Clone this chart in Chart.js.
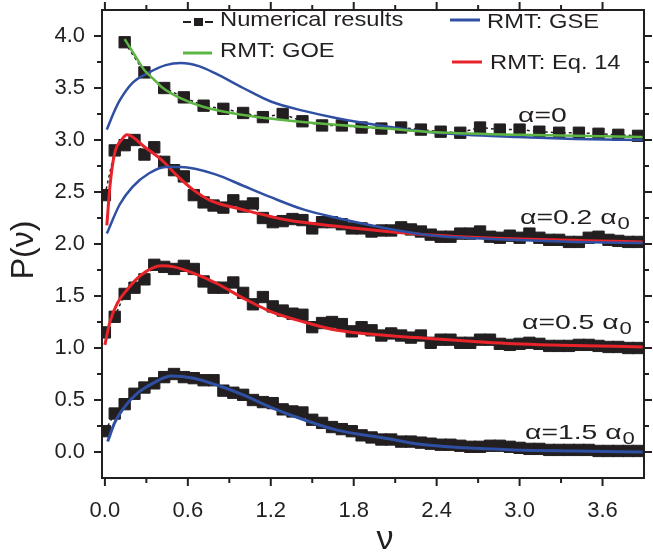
<!DOCTYPE html>
<html><head><meta charset="utf-8">
<script src="https://cdn.jsdelivr.net/npm/chart.js@4.4.0/dist/chart.umd.min.js"></script>
<style>html,body{margin:0;padding:0;background:#fff;}#wrap{width:653px;height:558px;position:relative;}</style>
</head><body><div id="wrap"><canvas id="c" width="653" height="558"></canvas></div>
<script>
// ---- data ----
const nuCoarse = [0.143,0.286,0.429,0.571,0.714,0.857,1.0,1.143,1.286,1.429,1.571,1.714,1.857,2.0,2.143,2.286,2.429,2.571,2.714,2.857,3.0,3.143,3.286,3.429,3.571,3.714,3.857];
const pAlpha0 = [3.94,3.65,3.50,3.41,3.33,3.30,3.26,3.22,3.25,3.18,3.14,3.14,3.12,3.11,3.12,3.10,3.08,3.07,3.12,3.10,3.10,3.08,3.07,3.07,3.06,3.05,3.04];

const nuFine = [0,0.071,0.143,0.214,0.286,0.357,0.429,0.5,0.571,0.643,0.714,0.786,0.857,0.929,1.0,1.071,1.143,1.214,1.286,1.357,1.429,1.5,1.571,1.643,1.714,1.786,1.857,1.929,2.0,2.071,2.143,2.214,2.286,2.357,2.429,2.5,2.571,2.643,2.714,2.786,2.857,2.929,3.0,3.071,3.143,3.214,3.286,3.357,3.429,3.5,3.571,3.643,3.714,3.786,3.857];
const pAlpha02 = [2.47,2.90,2.95,3.00,2.86,2.93,2.79,2.71,2.65,2.47,2.40,2.37,2.35,2.42,2.36,2.39,2.25,2.21,2.22,2.24,2.23,2.15,2.21,2.21,2.19,2.15,2.15,2.12,2.13,2.13,2.16,2.14,2.12,2.09,2.07,2.07,2.10,2.10,2.12,2.07,2.06,2.08,2.06,2.10,2.06,2.04,2.04,2.02,2.02,2.06,2.07,2.04,2.03,2.02,2.02];
const pAlpha05 = [1.15,1.30,1.52,1.58,1.66,1.80,1.78,1.76,1.79,1.76,1.64,1.58,1.58,1.63,1.53,1.42,1.49,1.40,1.36,1.33,1.32,1.20,1.24,1.25,1.23,1.16,1.20,1.17,1.12,1.14,1.12,1.10,1.12,1.05,1.08,1.08,1.05,1.05,1.08,1.08,1.04,1.03,1.04,1.05,1.04,1.02,1.02,1.02,1.03,1.03,1.02,1.01,1.01,1.00,1.00];
const pAlpha15 = [0.20,0.37,0.46,0.56,0.62,0.66,0.72,0.75,0.72,0.71,0.69,0.69,0.59,0.57,0.55,0.50,0.48,0.47,0.41,0.39,0.38,0.31,0.28,0.24,0.22,0.20,0.16,0.14,0.12,0.12,0.10,0.10,0.09,0.08,0.07,0.07,0.06,0.05,0.05,0.06,0.06,0.05,0.04,0.03,0.03,0.02,0.02,0.02,0.02,0.02,0.01,0.01,0.01,0.01,0.01];

const goeNu = [0.143,0.214,0.286,0.357,0.41,0.55,0.71,1.0,1.54,2.04,2.32,3.0,3.89];
const goeP  = [3.97,3.82,3.67,3.58,3.51,3.40,3.32,3.24,3.16,3.11,3.08,3.05,3.03];

const gseNuA = [0.014,0.06,0.107,0.2,0.32,0.44,0.55,0.68,0.8,1.0,1.2,1.44,1.68,2.04,2.32,2.61,2.96,3.4,3.89];
const gsePA  = [3.10,3.25,3.38,3.55,3.65,3.72,3.74,3.71,3.64,3.50,3.37,3.28,3.21,3.13,3.08,3.05,3.03,3.01,3.00];
const gseNuB = [0.014,0.107,0.2,0.32,0.44,0.55,0.8,1.0,1.2,1.44,1.68,2.04,2.32,2.61,2.96,3.4,3.89];
const gsePB  = [2.10,2.38,2.55,2.68,2.74,2.74,2.67,2.56,2.45,2.33,2.25,2.15,2.09,2.06,2.04,2.02,2.01];
const gseNuC = [0.02,0.07,0.14,0.24,0.36,0.48,0.64,0.84,1.0,1.2,1.44,1.68,2.04,2.25,2.6,2.96,3.4,3.89];
const gsePC  = [0.10,0.28,0.43,0.57,0.67,0.73,0.71,0.63,0.55,0.43,0.31,0.21,0.13,0.08,0.04,0.02,0.01,0.00];

const eqNuA = [0.014,0.036,0.07,0.12,0.16,0.29,0.41,0.52,0.64,0.76,1.0,1.32,1.68,2.04,2.32,2.96,3.89];
const eqPA  = [2.18,2.55,2.87,3.00,3.05,2.93,2.81,2.66,2.52,2.42,2.33,2.23,2.17,2.12,2.09,2.05,2.02];
const eqNuB = [0.0,0.036,0.09,0.16,0.26,0.41,0.5,0.64,0.81,1.0,1.2,1.44,1.68,2.04,2.25,2.96,3.89];
const eqPB  = [1.03,1.25,1.43,1.56,1.70,1.79,1.78,1.72,1.62,1.48,1.35,1.25,1.17,1.12,1.10,1.04,1.01];

const xTickValues = [0,0.3,0.6,0.9,1.2,1.5,1.8,2.1,2.4,2.7,3.0,3.3,3.6];
const xTickLabels = ['0.0','0.6','1.2','1.8','2.4','3.0','3.6'];
const yTickValues = [0,0.25,0.5,0.75,1.0,1.25,1.5,1.75,2.0,2.25,2.5,2.75,3.0,3.25,3.5,3.75,4.0];
const yTickLabels = ['0.0','0.5','1.0','1.5','2.0','2.5','3.0','3.5','4.0'];

const legendItems = ['Numerical results','RMT: GOE','RMT: GSE','RMT: Eq. 14'];
const annotations = [['α=0',''],['α=0.2 α','0'],['α=0.5 α','0'],['α=1.5 α','0']];

// ---- styling ----
const INK = '#231f20', GREEN = '#5db643', BLUE = '#2f4fa2', RED = '#e8232a';
const FONT = '"Liberation Sans", Arial, sans-serif';
const zip = (a, b) => a.map((v, i) => ({x: v, y: b[i]}));
const fmt = v => v.toFixed(1);
const isMult = (v, s) => Math.abs(v / s - Math.round(v / s)) < 1e-6;

function numDs(xs, ys) {
  return {data: zip(xs, ys), showLine: true, borderColor: INK, borderWidth: 1.5, borderDash: [3, 3],
    pointStyle: 'rect', pointRadius: 8, pointBackgroundColor: INK, pointBorderColor: INK, pointBorderWidth: 1,
    order: 5, clip: 0};
}
function curveDs(xs, ys, color, w) {
  return {data: zip(xs, ys), showLine: true, borderColor: color, borderWidth: w, pointRadius: 0,
    cubicInterpolationMode: 'monotone', order: 1, clip: 0};
}

function drawStretched(ctx, text, x, y, px, sx) {
  ctx.save();
  ctx.font = px + 'px ' + FONT;
  ctx.textBaseline = 'middle';
  ctx.textAlign = 'left';
  const w = ctx.measureText(text).width * sx;
  ctx.translate(x, y);
  ctx.scale(sx, 1);
  ctx.fillText(text, 0, 0);
  ctx.restore();
  return w;
}
function zeroPad(s) { s.paddingTop = 0; s.paddingBottom = 0; s.paddingLeft = 0; s.paddingRight = 0; }

const overlay = {
  id: 'overlay',
  afterDraw(chart) {
    const {ctx, chartArea: a, scales: {x, y}} = chart;
    ctx.save();
    ctx.strokeStyle = INK; ctx.fillStyle = INK;
    ctx.lineWidth = 2;
    ctx.strokeRect(a.left, a.top, a.right - a.left, a.bottom - a.top);
    ctx.beginPath();
    xTickValues.forEach(v => {
      const p = x.getPixelForValue(v);
      const L = isMult(v, 0.6) ? 8 : 5;
      ctx.moveTo(p, a.bottom); ctx.lineTo(p, a.bottom + L);
      ctx.moveTo(p, a.top); ctx.lineTo(p, a.top - L);
    });
    yTickValues.forEach(v => {
      const p = y.getPixelForValue(v);
      const L = isMult(v, 0.5) ? 8 : 5;
      ctx.moveTo(a.left, p); ctx.lineTo(a.left - L, p);
      ctx.moveTo(a.right, p); ctx.lineTo(a.right + L, p);
    });
    ctx.stroke();

    // axis titles
    ctx.save();
    ctx.translate(24, 250);
    ctx.rotate(-Math.PI / 2);
    ctx.font = '32px ' + FONT;
    ctx.textAlign = 'center'; ctx.textBaseline = 'middle';
    ctx.fillText('P(ν)', 0, 0);
    ctx.restore();
    ctx.font = '34px ' + FONT;
    ctx.textAlign = 'center'; ctx.textBaseline = 'middle';
    ctx.fillText('ν', 385, 540);

    // legend
    ctx.lineWidth = 2;
    ctx.beginPath();
    ctx.moveTo(183, 22); ctx.lineTo(191, 22);
    ctx.moveTo(205, 22); ctx.lineTo(213, 22);
    ctx.stroke();
    ctx.fillRect(194, 18, 9, 8);
    drawStretched(ctx, legendItems[0], 220, 20, 21, 1.13);
    ctx.lineWidth = 3;
    ctx.strokeStyle = GREEN;
    ctx.beginPath(); ctx.moveTo(183, 53); ctx.lineTo(212, 53); ctx.stroke();
    drawStretched(ctx, legendItems[1], 220, 51, 21, 1.13);
    ctx.strokeStyle = BLUE;
    ctx.beginPath(); ctx.moveTo(450, 20); ctx.lineTo(480, 20); ctx.stroke();
    drawStretched(ctx, legendItems[2], 487, 22, 21, 1.13);
    ctx.strokeStyle = RED;
    ctx.beginPath(); ctx.moveTo(452, 62); ctx.lineTo(482, 62); ctx.stroke();
    drawStretched(ctx, legendItems[3], 490, 63, 21, 1.13);

    // annotations
    const annPos = [[518, 116], [520, 218], [522, 323], [525, 433]];
    annotations.forEach((t, i) => {
      const [ax, ay] = annPos[i];
      const w = drawStretched(ctx, t[0], ax, ay, 21, 1.35);
      if (t[1]) drawStretched(ctx, t[1], ax + w + 1, ay + 6, 17, 1.3);
    });
    ctx.restore();
  }
};

Chart.defaults.font.family = FONT;
Chart.defaults.color = INK;

new Chart(document.getElementById('c'), {
  type: 'scatter',
  data: {
    datasets: [
      numDs(nuCoarse, pAlpha0),
      numDs(nuFine, pAlpha02),
      numDs(nuFine, pAlpha05),
      numDs(nuFine, pAlpha15),
      curveDs(goeNu, goeP, GREEN, 2.5),
      curveDs(gseNuA, gsePA, BLUE, 2.5),
      curveDs(gseNuB, gsePB, BLUE, 2.5),
      curveDs(gseNuC, gsePC, BLUE, 3),
      curveDs(eqNuA, eqPA, RED, 3),
      curveDs(eqNuB, eqPB, RED, 3)
    ]
  },
  options: {
    responsive: false,
    animation: false,
    layout: {padding: {top: 10, right: 2, left: 0, bottom: 0}},
    plugins: {legend: {display: false}, tooltip: {enabled: false}},
    scales: {
      x: {
        type: 'linear', min: -0.021, max: 3.9,
        afterBuildTicks: s => { s.ticks = xTickValues.map(v => ({value: v})); },
        afterFit: s => { s.height = 80; zeroPad(s); },
        grid: {display: false, drawTicks: false},
        border: {display: false},
        ticks: {autoSkip: false, maxRotation: 0, padding: 20, font: {size: 22}, color: INK,
          callback: v => (isMult(v, 0.6) && xTickLabels.includes(fmt(v))) ? fmt(v) : ''}
      },
      y: {
        type: 'linear', min: -0.25, max: 4.25,
        afterBuildTicks: s => { s.ticks = yTickValues.map(v => ({value: v})); },
        afterFit: s => { s.width = 102; zeroPad(s); },
        grid: {display: false, drawTicks: false},
        border: {display: false},
        ticks: {autoSkip: false, padding: 17, font: {size: 22}, color: INK,
          callback: v => (isMult(v, 0.5) && yTickLabels.includes(fmt(v))) ? fmt(v) : ''}
      }
    }
  },
  plugins: [overlay]
});
</script></body></html>
